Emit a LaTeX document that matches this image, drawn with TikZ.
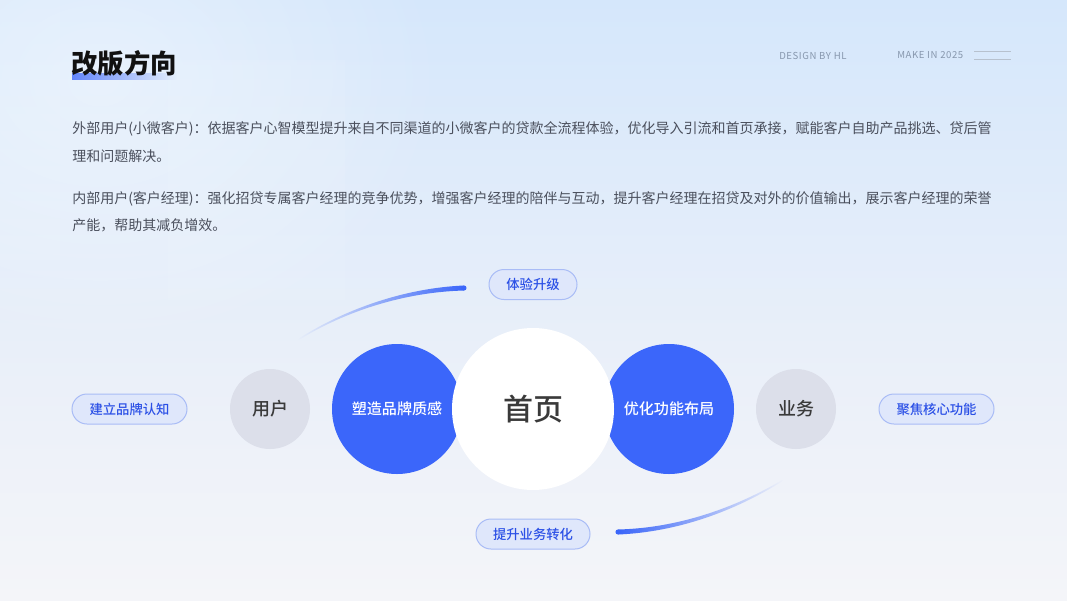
\documentclass[tikz,border=0pt]{standalone}
\usepackage{fontspec}
\setmainfont{Noto Sans CJK SC}
\newfontfamily\medfont{Noto Sans CJK SC}[UprightFont=* Medium]
\usetikzlibrary{fadings}
\definecolor{bgtop}{HTML}{D5E7FB}
\definecolor{bgmid}{HTML}{EBF0F9}
\definecolor{bgbot}{HTML}{F4F5F9}
\definecolor{brand}{HTML}{3B66FA}
\definecolor{greyc}{HTML}{DCDFEA}
\definecolor{pillfill}{HTML}{DFE7FB}
\definecolor{pillline}{HTML}{A9BCF6}
\definecolor{pilltext}{HTML}{2B50E6}
\definecolor{bodytext}{HTML}{4A4F5C}
\definecolor{headtext}{HTML}{8797AD}
\definecolor{titletext}{HTML}{111111}
\definecolor{circtext}{HTML}{3A3A3A}
\pgfdeclareverticalshading{bgshade}{100bp}{color(0bp)=(bgbot); color(25bp)=(bgbot); color(43bp)=(bgmid); color(75bp)=(bgtop); color(100bp)=(bgtop)}
\tikzfading[name=fadeleft, left color=transparent!100, right color=transparent!0]
\tikzfading[name=faderight, left color=transparent!0, right color=transparent!100]
\tikzfading[name=fadetl, inner color=transparent!0, outer color=transparent!100]
\begin{document}
\begin{tikzpicture}[x=0.75pt,y=-0.75pt,
  body/.style={anchor=west,inner sep=0pt,text=bodytext,font=\fontsize{10.5}{12}\selectfont},
  head/.style={anchor=west,inner sep=0pt,text=headtext,font=\fontsize{7.2}{8}\selectfont\addfontfeatures{LetterSpace=6}},
  pill/.style={draw=pillline,fill=pillfill,line width=0.75pt,rounded corners=11.25pt,
    minimum height=22.5pt,inner sep=0pt,text=pilltext,font=\medfont\fontsize{10}{12}\selectfont},
  greycirc/.style={circle,fill=greyc,minimum size=60pt,inner sep=0pt,text=circtext,
    font=\medfont\fontsize{13.5}{15}\selectfont},
  bluecirc/.style={circle,fill=brand,minimum size=97.5pt,inner sep=0pt,text=white,
    font=\medfont\fontsize{11.3}{13}\selectfont},
  whitecirc/.style={circle,fill=white,minimum size=121.5pt,inner sep=0pt,text=circtext,
    font=\medfont\fontsize{22.5}{26}\selectfont}
]
\useasboundingbox (0,0) rectangle (1067,600);
% background
\shade[shading=bgshade] (0,0) rectangle (1067,600);
\fill[white,opacity=0.4,path fading=fadetl] (-250,-200) rectangle (450,360);
\fill[white,opacity=0.07] (0,0) rectangle (60,260);
\fill[white,opacity=0.07] (168,60) rectangle (345,300);
% title
\fill[brand!80,path fading=faderight] (72,73) rectangle (177,80);
\node[anchor=west,inner sep=0pt,text=titletext,font=\fontsize{19.8}{22}\selectfont\bfseries] (title) at (71,63) {改版方向};
% header
\node[head] (design) at (779,55.5) {DESIGN BY HL};
\node[head] (make) at (897,55.5) {MAKE IN 2025};
\coordinate (l1a) at (974,51); \coordinate (l1b) at (1011,51);
\coordinate (l2a) at (974,59); \coordinate (l2b) at (1011,59);
\draw[headtext!60,line width=0.75pt] (l1a) -- (l1b);
\draw[headtext!60,line width=0.75pt] (l2a) -- (l2b);
% paragraphs
\node[body] (p1) at (72,129) {外部用户(小微客户)：依据客户心智模型提升来自不同渠道的小微客户的贷款全流程体验，优化导入引流和首页承接，赋能客户自助产品挑选、贷后管};
\node[body] (p2) at (72,156) {理和问题解决。};
\node[body] (p3) at (72,199) {内部用户(客户经理)：强化招贷专属客户经理的竞争优势，增强客户经理的陪伴与互动，提升客户经理在招贷及对外的价值输出，展示客户经理的荣誉};
\node[body] (p4) at (72,225) {产能，帮助其减负增效。};
% arcs
\fill[brand,path fading=fadeleft] (298,339) .. controls (345,309) and (405,288) .. (464,285.5)
   -- (464,290.5) .. controls (405,292) and (345,311) .. (298,340.5) -- cycle;
\fill[brand] (464,288) circle (1.9pt);
\fill[brand,path fading=faderight] (618,529.5) .. controls (678,528) and (735,508) .. (783,479.5)
   -- (783,480.8) .. controls (735,511) and (678,532) .. (618,534.5) -- cycle;
\fill[brand] (618,532) circle (1.9pt);
% circles
\node[greycirc] (user) at (270,409) {用户};
\node[greycirc] (biz) at (796,409) {业务};
\node[bluecirc] (brandc) at (397,409) {塑造品牌质感};
\node[bluecirc] (func) at (669,409) {优化功能布局};
\foreach \r in {1,...,14}{
  \fill[black,opacity=0.007] (530,412) circle ({60.75+\r*0.9});
}
\node[whitecirc] (home) at (533,409) {首页};
% pills
\node[pill,minimum width=66pt] (exp) at (533,284.5) {体验升级};
\node[pill,minimum width=86.25pt] (build) at (129.5,409) {建立品牌认知};
\node[pill,minimum width=86.25pt] (focus) at (936.5,409) {聚焦核心功能};
\node[pill,minimum width=85.5pt] (conv) at (533,534) {提升业务转化};
\end{tikzpicture}
\end{document}
